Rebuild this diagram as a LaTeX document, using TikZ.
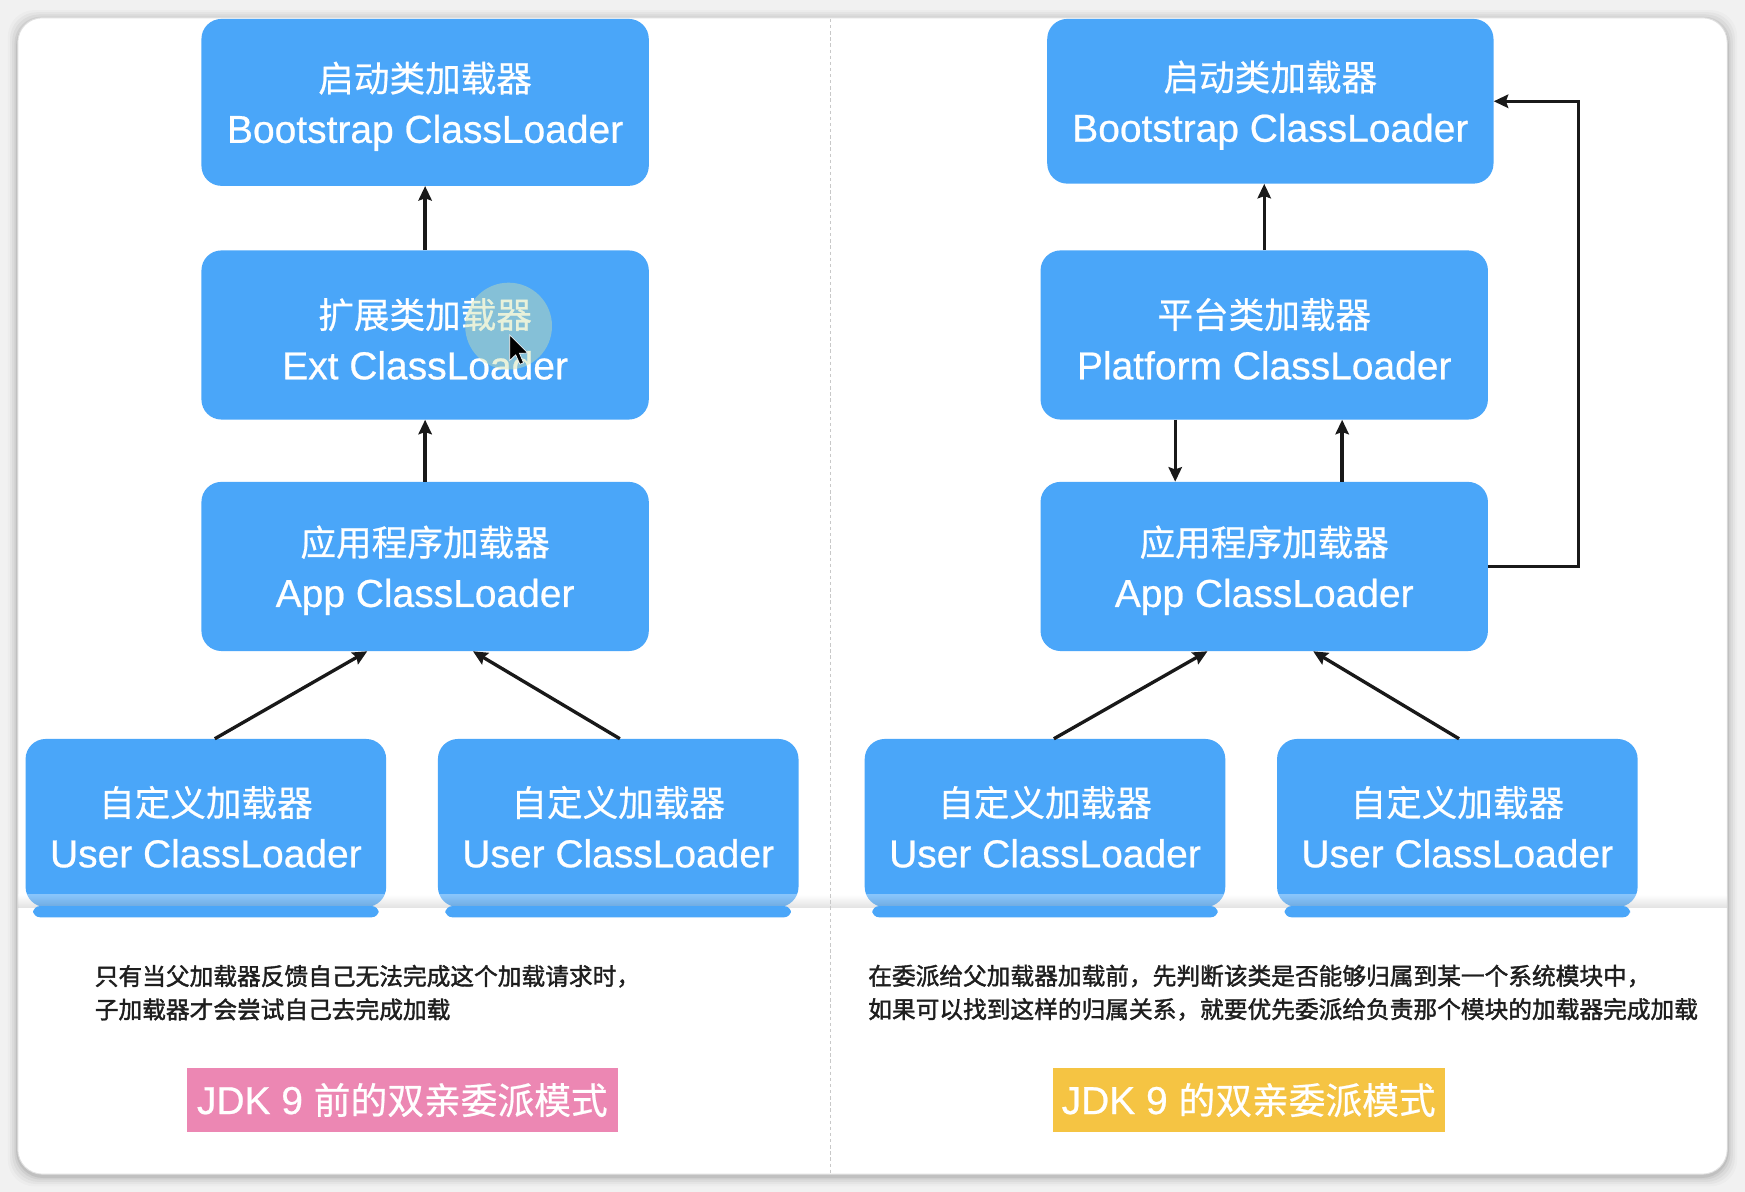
\documentclass[tikz,border=0pt]{standalone}
\usepackage{fontspec}
\setmainfont{Liberation Sans}[FakeBold=0.6]
\newfontfamily\cjk{Noto Sans CJK SC}[FakeBold=0.6]
\newfontfamily\cjkcap{Noto Sans CJK SC}[FakeBold=1.6]
\usetikzlibrary{arrows.meta,calc}

\definecolor{backdrop}{HTML}{F1F1F1}
\definecolor{boxblue}{HTML}{4AA6F9}
\definecolor{tagpink}{HTML}{EC87B3}
\definecolor{tagyellow}{HTML}{F5C443}
\definecolor{captext}{HTML}{1E1E1E}
\definecolor{divider}{HTML}{C8C8C8}

% Chinese first line of a loader box; the strut lowers the text block a little
\newcommand{\zh}[1]{{\cjk\fontsize{32}{46}\selectfont\rule{0pt}{34pt}#1}}

\begin{document}
\begin{tikzpicture}[x=1pt,y=-1pt,
  loader/.style={fill=boxblue, rounded corners=18pt, text=white, align=center,
    inner sep=0pt, minimum width=402pt, minimum height=152pt,
    font=\fontsize{35}{46}\selectfont},
  userbox/.style={loader, minimum width=324pt, minimum height=151pt},
  conn/.style={draw=black!90, line width=3pt,
    -{Stealth[length=13pt,width=12pt,inset=2pt]}},
  tag/.style={text=white, inner sep=0pt, minimum height=57pt,
    font=\fontsize{35}{40}\selectfont},
  caption/.style={text=captext, align=left, inner sep=0pt, anchor=west,
    font=\cjkcap\fontsize{21.3}{30}\selectfont},
]
\useasboundingbox (0,0) rectangle (1568,1071);

% window backdrop with a soft shadow round the card
\fill[backdrop] (0,0) rectangle (1568,1071);
\foreach \d/\o in {9/0.02,7/0.03,5/0.04,3/0.05,1.5/0.07}
  \fill[black, opacity=\o, rounded corners=24pt]
    (16-\d,16-\d+2) rectangle (1552+\d,1055+\d+2);
\fill[white, draw=black!12, line width=0.8pt, rounded corners=22pt]
  (16,16) rectangle (1552,1055);

% left column: loaders before JDK 9
\node[loader, minimum height=150pt] (boot) at (382,92)
  {\zh{启动类加载器}\\Bootstrap ClassLoader};
\node[loader] (ext) at (382,301) {\zh{扩展类加载器}\\Ext ClassLoader};
\node[loader] (app) at (382,509) {\zh{应用程序加载器}\\App ClassLoader};
\node[userbox] (u1) at (185,739.5) {\zh{自定义加载器}\\User ClassLoader};
\node[userbox] (u2) at (555.5,739.5) {\zh{自定义加载器}\\User ClassLoader};

% right column: loaders in JDK 9
\node[loader, minimum width=401pt, minimum height=148pt] (boot2) at (1141.5,91)
  {\zh{启动类加载器}\\Bootstrap ClassLoader};
\node[loader] (plat) at (1136,301) {\zh{平台类加载器}\\Platform ClassLoader};
\node[loader] (app2) at (1136,509) {\zh{应用程序加载器}\\App ClassLoader};
\node[userbox] (u3) at (939,739.5) {\zh{自定义加载器}\\User ClassLoader};
\node[userbox] (u4) at (1309.5,739.5) {\zh{自定义加载器}\\User ClassLoader};

% pointer highlight over the extension loader
\fill[fill={rgb,255:red,205;green,225;blue,175}, opacity=0.45] (457,293) circle (39);
\fill[black, draw=white, line width=0.6pt, shift={(458,301)}, scale=1.35]
  (0,0) -- (0,17) -- (4,13.2) -- (6.8,19.5) -- (9.2,18.5) -- (6.5,12.2) -- (12,12) -- cycle;

% parent delegation before JDK 9
\draw[conn] (ext.north) -- (boot.south);
\draw[conn] (app.north) -- (ext.south);
\draw[conn] ([xshift=8pt]u1.north) -- ([xshift=-52pt]app.south);
\draw[conn] ([xshift=1.5pt]u2.north) -- ([xshift=43pt]app.south);

% delegation in JDK 9
\draw[conn] (plat.north) -- (plat.north |- boot2.south);
\draw[conn] ([xshift=-80pt]plat.south) -- ([xshift=-80pt]app2.north);
\draw[conn] ([xshift=70pt]app2.north) -- ([xshift=70pt]plat.south);
\draw[conn] (app2.east) -- ++(81,0) |- (boot2.east);
\draw[conn] ([xshift=8pt]u3.north) -- ([xshift=-51pt]app2.south);
\draw[conn] ([xshift=1.5pt]u4.north) -- ([xshift=44pt]app2.south);

% lower panel edge and the box feet beneath it
\shade[top color=white, bottom color=black!30, opacity=0.35]
  (16,804) rectangle (1552,815);
\foreach \u in {u1,u2,u3,u4}
  \fill[boxblue, rounded corners=6pt]
    ($(\u.south west)+(7,-1)$) rectangle ($(\u.south east)+(-7,9)$);

% column divider
\draw[divider, line width=0.9pt, dash pattern=on 3pt off 2.5pt] (746,17) -- (746,1054);

% notes and titles
\node[caption] (c1) at (85,892)
  {只有当父加载器反馈自己无法完成这个加载请求时，\\子加载器才会尝试自己去完成加载};
\node[caption] (c2) at (780,892)
  {在委派给父加载器加载前，先判断该类是否能够归属到某一个系统模块中，\\如果可以找到这样的归属关系，就要优先委派给负责那个模块的加载器完成加载};

\node[tag, fill=tagpink, minimum width=387pt] (t1) at (361.5,988.5)
  {JDK 9 {\cjk\fontsize{33}{40}\selectfont 前的双亲委派模式}};
\node[tag, fill=tagyellow, minimum width=352pt] (t2) at (1122,988.5)
  {JDK 9 {\cjk\fontsize{33}{40}\selectfont 的双亲委派模式}};
\end{tikzpicture}
\end{document}
